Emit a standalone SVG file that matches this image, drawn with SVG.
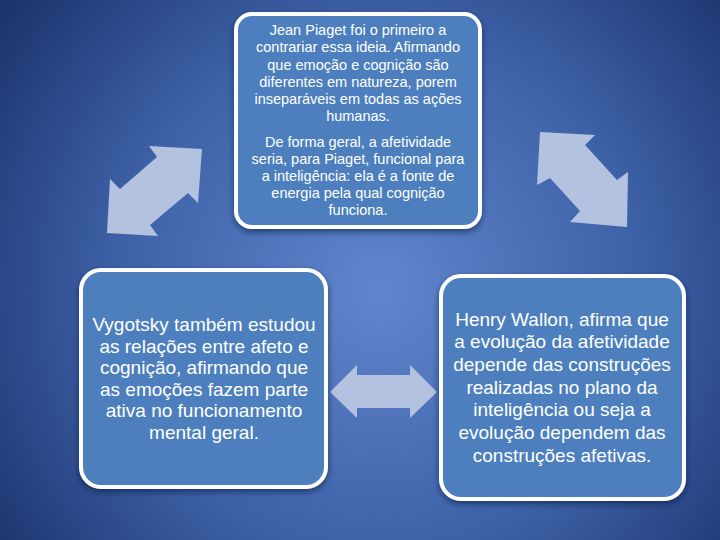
<svg xmlns="http://www.w3.org/2000/svg" width="720" height="540" viewBox="0 0 720 540">
<defs>
<radialGradient id="bg" cx="380" cy="290" r="470" gradientUnits="userSpaceOnUse">
<stop offset="0" stop-color="#6186cd"/>
<stop offset="0.55" stop-color="#3e62a8"/>
<stop offset="1" stop-color="#1c336d"/>
</radialGradient>
<filter id="sh" x="-10%" y="-10%" width="120%" height="125%">
<feGaussianBlur in="SourceAlpha" stdDeviation="3"/>
<feOffset dx="0" dy="3" result="b"/>
<feFlood flood-color="#0a1a40" flood-opacity="0.6"/>
<feComposite in2="b" operator="in"/>
<feMerge><feMergeNode/><feMergeNode in="SourceGraphic"/></feMerge>
</filter>
<style>
.box{fill:#4d7fbe;stroke:#ffffff;stroke-width:4;filter:url(#sh)}
.arr{fill:#b3c3df}
.t{fill:#ffffff;font-family:"Liberation Sans",Arial,sans-serif;text-anchor:middle}
.s{font-size:14.5px}
.m{font-size:19px}
</style>
</defs>
<rect width="720" height="540" fill="url(#bg)"/>
<g id="connectors">
<polygon class="arr" points="202,149 198,203 188,193 150,225 158,236 107,233 110,179 120,189 157,157 149,146"/>
<polygon class="arr" points="540,132 595,135 585,145 617,180 628,172 627,227 570,222 580,211 550,178 537,185"/>
<polygon class="arr" points="330,392 357,365 357,375 410,375 410,365 437,392 410,418 410,408 357,408 357,418"/>
</g>
<g id="piaget">
<rect class="box" x="236" y="14" width="244" height="213" rx="16"/>
<text class="t s"><tspan x="358" y="35">Jean Piaget foi o primeiro a</tspan><tspan x="358" y="52">contrariar essa ideia. Afirmando</tspan><tspan x="358" y="70">que emoção e cognição são</tspan><tspan x="358" y="87">diferentes em natureza, porem</tspan><tspan x="358" y="104">inseparáveis em todas as ações</tspan><tspan x="358" y="121">humanas.</tspan><tspan x="358" y="147">De forma geral, a afetividade</tspan><tspan x="358" y="164">seria, para Piaget, funcional para</tspan><tspan x="358" y="181">a inteligência: ela é a fonte de</tspan><tspan x="358" y="198">energia pela qual cognição</tspan><tspan x="358" y="215">funciona.</tspan></text>
</g>
<g id="vygotsky">
<rect class="box" x="81" y="270" width="245" height="217" rx="20"/>
<text class="t m"><tspan x="204" y="331">Vygotsky também estudou</tspan><tspan x="204" y="353">as relações entre afeto e</tspan><tspan x="204" y="374">cognição, afirmando que</tspan><tspan x="204" y="396">as emoções fazem parte</tspan><tspan x="204" y="417">ativa no funcionamento</tspan><tspan x="204" y="439">mental geral.</tspan></text>
</g>
<g id="wallon">
<rect class="box" x="441" y="276" width="243" height="223" rx="20"/>
<text class="t m"><tspan x="562" y="326">Henry Wallon, afirma que</tspan><tspan x="562" y="348">a evolução da afetividade</tspan><tspan x="562" y="371">depende das construções</tspan><tspan x="562" y="394">realizadas no plano da</tspan><tspan x="562" y="416">inteligência ou seja a</tspan><tspan x="562" y="439">evolução dependem das</tspan><tspan x="562" y="462">construções afetivas.</tspan></text>
</g>
</svg>
